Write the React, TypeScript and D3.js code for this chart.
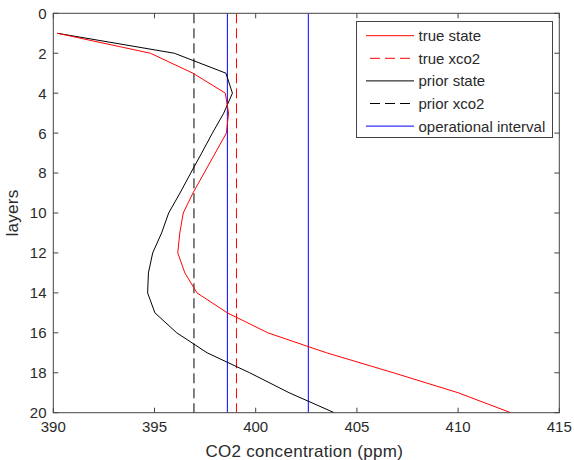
import React from "react";
import * as d3 from "d3";

const layers = [1, 2, 3, 4, 5, 6, 7, 8, 9, 10, 11, 12, 13, 14, 15, 16, 17, 18, 19, 20];
const trueState = [390.2, 394.8, 396.9, 398.5, 398.66, 398.55, 398.0, 397.45, 396.9, 396.42, 396.25, 396.15, 396.5, 397.1, 398.6, 400.6, 403.5, 406.8, 410.0, 412.6];
const priorState = [390.2, 395.98, 398.53, 398.85, 398.42, 397.86, 397.33, 396.79, 396.26, 395.7, 395.35, 394.91, 394.7, 394.66, 395.02, 396.1, 397.6, 399.7, 401.65, 403.88];
const trueXco2 = 399.05;
const priorXco2 = 396.95;
const operationalInterval = [398.6, 402.6];
const xTicks = [390, 395, 400, 405, 410, 415];
const yTicks = [0, 2, 4, 6, 8, 10, 12, 14, 16, 18, 20];
const legendItems = [
  { label: "true state", color: "#ff0000", dash: "" },
  { label: "true xco2", color: "#ff0000", dash: "10,5" },
  { label: "prior state", color: "#000000", dash: "" },
  { label: "prior xco2", color: "#000000", dash: "10,5" },
  { label: "operational interval", color: "#0000ff", dash: "" },
];

const W = 574;
const H = 460;
const L = 53.3, R = 559.3, T = 13.3, B = 412.7;
const FONT = "'Liberation Sans', Arial, sans-serif";
const AX = "#444";
const TXT = "#2a2a2a";

export default function App() {
  const x = d3.scaleLinear().domain([390, 415]).range([L, R]);
  const y = d3.scaleLinear().domain([0, 20]).range([T, B]);
  const line = d3
    .line<[number, number]>()
    .x((d) => x(d[0]))
    .y((d) => y(d[1]));
  const trueD = line(layers.map((l, i) => [trueState[i], l] as [number, number])) || "";
  const priorD = line(layers.map((l, i) => [priorState[i], l] as [number, number])) || "";

  const lx = 356.5, ly = 21.5, lw = 196, lh = 116;
  const rowY = (i: number) => 35.7 + i * 22.6;

  return (
    <svg width={W} height={H} style={{ position: "absolute", left: 0, top: 0, background: "#fff" }} fontFamily={FONT}>
      <rect x={0} y={0} width={W} height={H} fill="#fff" />
      <defs>
        <clipPath id="plot">
          <rect x={L} y={T} width={R - L} height={B - T} />
        </clipPath>
      </defs>
      <g clipPath="url(#plot)" fill="none" strokeWidth={1}>
        <line x1={x(priorXco2)} x2={x(priorXco2)} y1={T} y2={B} stroke="#000" strokeDasharray="10,5" />
        <line x1={x(trueXco2)} x2={x(trueXco2)} y1={T} y2={B} stroke="#ff0000" strokeDasharray="10,5" />
        {operationalInterval.map((v, i) => (
          <line key={i} x1={x(v)} x2={x(v)} y1={T} y2={B} stroke="#0000ff" />
        ))}
        <path d={priorD} stroke="#000" />
        <path d={trueD} stroke="#ff0000" />
      </g>
      <rect x={L} y={T} width={R - L} height={B - T} fill="none" stroke={AX} strokeWidth={1} />
      {xTicks.map((t) => (
        <g key={"x" + t}>
          <line x1={x(t)} x2={x(t)} y1={B} y2={B - 5} stroke={AX} />
          <line x1={x(t)} x2={x(t)} y1={T} y2={T + 5} stroke={AX} />
          <text x={x(t)} y={432} textAnchor="middle" fontSize={15} fill={TXT}>
            {t}
          </text>
        </g>
      ))}
      {yTicks.map((t) => (
        <g key={"y" + t}>
          <line x1={L} x2={L + 5} y1={y(t)} y2={y(t)} stroke={AX} />
          <line x1={R} x2={R - 5} y1={y(t)} y2={y(t)} stroke={AX} />
          <text x={46.5} y={y(t)} dy="0.36em" textAnchor="end" fontSize={15} fill={TXT}>
            {t}
          </text>
        </g>
      ))}
      <text x={(L + R) / 2 - 2} y={456.5} textAnchor="middle" fontSize={17} letterSpacing={0.3} fill={TXT}>
        CO2 concentration (ppm)
      </text>
      <text transform={`translate(18, ${(T + B) / 2}) rotate(-90)`} textAnchor="middle" fontSize={17} letterSpacing={0.3} fill={TXT}>
        layers
      </text>
      <rect x={lx} y={ly} width={lw} height={lh} fill="#fff" stroke={AX} strokeWidth={1} />
      {legendItems.map((it, i) => (
        <g key={it.label}>
          <line
            x1={it.dash ? 370 : 366}
            x2={it.dash ? 410 : 414}
            y1={rowY(i)}
            y2={rowY(i)}
            stroke={it.color}
            strokeDasharray={it.dash || undefined}
          />
          <text x={418.5} y={rowY(i)} dy="0.36em" fontSize={15} fill={TXT}>
            {it.label}
          </text>
        </g>
      ))}
    </svg>
  );
}
